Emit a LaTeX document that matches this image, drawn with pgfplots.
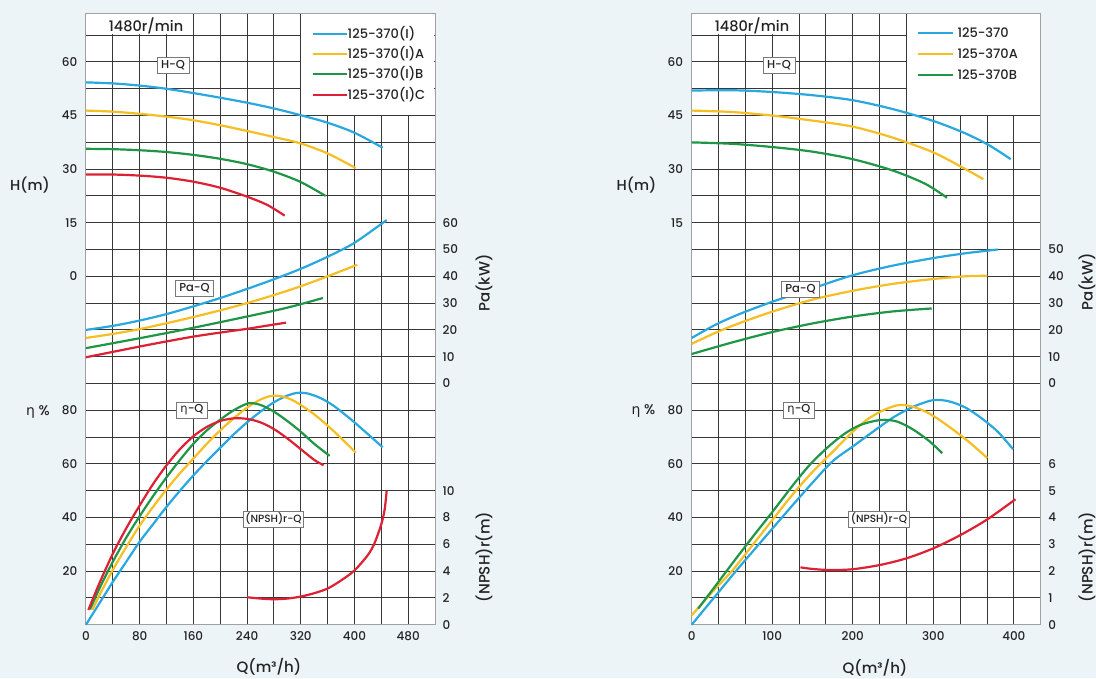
\documentclass[border=0pt]{standalone}
\usepackage{pgfplots}
\pgfplotsset{compat=1.18}
\usepackage{fontspec}
\setmainfont{Poppins Medium}
\newfontfamily\grk{DejaVu Sans}
\definecolor{bg}{RGB}{236,244,247}
\definecolor{cB}{RGB}{41,168,224}
\definecolor{cY}{RGB}{245,190,35}
\definecolor{cG}{RGB}{30,150,70}
\definecolor{cR}{RGB}{222,32,52}
\definecolor{gridc}{RGB}{55,55,55}
\definecolor{framec}{RGB}{160,160,160}
\definecolor{boxc}{RGB}{120,120,120}
\definecolor{txt}{RGB}{35,35,35}
\pgfplotsset{
  every axis/.append style={scale only axis, width=349pt, height=611.3pt, anchor=south west,
     /pgf/number format/assume math mode=true,
     major tick length=0pt, tick style={draw=none},
     tick label style={font=\fontsize{12}{12}\selectfont, text=txt},
     clip=false},
  ov/.style={axis line style={draw=none}, xtick=\empty, xmin=0, xmax=#1},
  lefty/.style={yticklabel style={anchor=east, inner sep=0pt, xshift=-8.5pt}},
  righty/.style={yticklabel pos=right, yticklabel style={anchor=west, inner sep=0pt, xshift=7.5pt}},
  cv/.style={line width=2.2pt, smooth, no markers},
  gridax/.style={grid=major, grid style={gridc, line width=1pt},
     axis line style={framec, line width=1pt},
     axis background/.style={fill=white},
     xticklabel style={anchor=north, inner sep=0pt, yshift=-7pt},
     xmin=0, xmax=13, xtick={0,1,...,13},
     ytick={0,1,...,22}, yticklabels={}, ymin=0, ymax=22.81},
}
\tikzset{
  lbl/.style={draw=boxc, fill=white, line width=0.8pt, inner xsep=4pt, inner ysep=0pt,
     minimum height=16pt, text=txt, font=\fontsize{11.5}{11.5}\selectfont},
  tx/.style={text=txt, inner sep=0pt},
}
\begin{document}
\begin{tikzpicture}[x=1pt,y=1pt]
\fill[bg] (0,0) rectangle (1096,678);

% ================= LEFT PANEL (grid: 13 columns of 40 m3/h) =================
\begin{axis}[at={(86pt,53.3pt)}, gridax,
  xticklabels={0,{},80,{},160,{},240,{},320,{},400,{},480,{}}]
\fill[white] (axis cs:0.02,22.04) rectangle (axis cs:3.98,22.78);
\fill[white] (axis cs:8.02,19.025) rectangle (axis cs:12.98,22.78);
\end{axis}

\begin{axis}[at={(86pt,53.3pt)}, ov=520, ymin=-97.5, ymax=73.6, ytick={0,15,...,60}, lefty]
\addplot[cv, cB] coordinates {(0,54.3)(40,54.0)(80,53.4)(120,52.5)(160,51.3)(200,50.0)(240,48.6)(280,47.0)(320,45.1)(360,43.0)(400,40.2)(442,36.0)};
\addplot[cv, cY] coordinates {(0,46.4)(40,46.1)(80,45.5)(120,44.7)(160,43.7)(200,42.3)(240,40.7)(280,39.0)(320,37.2)(360,34.4)(402,30.3)};
\addplot[cv, cG] coordinates {(0,35.7)(40,35.6)(80,35.3)(120,34.8)(160,34.0)(200,32.9)(240,31.4)(280,29.3)(320,26.4)(357,22.5)};
\addplot[cv, cR] coordinates {(0,28.5)(40,28.5)(80,28.2)(120,27.6)(160,26.5)(200,24.8)(240,22.3)(270,20.0)(296,17.0)};
\end{axis}

\begin{axis}[at={(86pt,53.3pt)}, ov=520, ymin=-90, ymax=138.1, ytick={0,10,...,60}, righty]
\addplot[cv, cB] coordinates {(0,20)(40,21.5)(80,23.5)(120,25.9)(160,28.8)(200,31.9)(240,35.3)(280,38.9)(320,42.8)(360,47.3)(400,52.5)(448,61)};
\addplot[cv, cY] coordinates {(0,17)(40,18.5)(80,20.3)(120,22.5)(160,24.8)(200,27.3)(240,30)(280,33)(320,36.3)(360,40)(404,44.3)};
\addplot[cv, cG] coordinates {(0,13.2)(80,16.9)(160,20.8)(240,25)(300,28.3)(353,31.9)};
\addplot[cv, cR] coordinates {(0,9.8)(40,11.8)(80,13.8)(120,15.7)(160,17.5)(200,19)(240,20.4)(270,21.6)(298,22.7)};
\end{axis}

\begin{axis}[at={(86pt,53.3pt)}, ov=520, ymin=0, ymax=228.1, ytick={20,40,60,80}, lefty]
\addplot[cv, cB] coordinates {(0,0)(20,8)(40,16)(60,23.5)(80,31)(100,37.5)(120,44)(140,50)(160,55.7)(180,61)(200,66)(220,71)(240,75.5)(260,79.5)(280,83)(300,85.5)(315,86.5)(330,86.3)(350,84.5)(370,81.5)(400,75.5)(442,66.2)};
\addplot[cv, cY] coordinates {(9.5,5.5)(20,11)(40,20.5)(60,29)(80,37)(100,44)(120,50.5)(140,56.5)(160,62)(180,67.5)(200,72.5)(220,77)(240,81)(260,84)(275,85.3)(290,85.3)(310,83.5)(340,78.5)(370,72)(402,64.2)};
\addplot[cv, cG] coordinates {(6,5.7)(20,13.5)(40,23.5)(60,32.5)(80,40.5)(100,48)(120,55)(140,61.5)(160,67.5)(180,72.5)(200,76.5)(220,80)(242,82.6)(260,82)(280,79.5)(300,76)(320,72)(340,67.5)(363,63)};
\addplot[cv, cR] coordinates {(3.5,5.5)(20,15.5)(40,26.5)(60,36)(80,44.5)(100,52.5)(120,59.5)(140,65.5)(160,70.3)(180,73.8)(200,76)(220,77)(240,76.8)(260,75.5)(280,73)(300,69.5)(320,65.5)(340,61.5)(354,59.5)};
\end{axis}

\begin{axis}[at={(86pt,53.3pt)}, ov=520, ymin=0, ymax=45.62, ytick={0,2,...,10}, righty]
\addplot[cv, cR] coordinates {(240,2.05)(260,1.95)(280,1.9)(300,1.95)(320,2.1)(340,2.35)(360,2.7)(380,3.3)(400,4.05)(420,5.2)(430,6.1)(440,7.5)(445,8.6)(448,10)};
\end{axis}

% ================= RIGHT PANEL (grid: 13 columns of 33.3 m3/h) =================
\begin{axis}[at={(691.7pt,53.3pt)}, gridax,
  xticklabels={0,{},{},100,{},{},200,{},{},300,{},{},400,{}}]
\fill[white] (axis cs:0.02,22.04) rectangle (axis cs:3.98,22.78);
\fill[white] (axis cs:8.02,19.025) rectangle (axis cs:12.98,22.78);
\end{axis}

\begin{axis}[at={(691.7pt,53.3pt)}, ov=433.333, ymin=-97.5, ymax=73.6, ytick={15,30,45,60}, lefty]
\addplot[cv, cB] coordinates {(0,52)(50,52.1)(100,51.6)(150,50.7)(200,49.3)(250,46.8)(300,43.5)(340,40)(370,36.6)(396,32.8)};
\addplot[cv, cY] coordinates {(0,46.4)(50,46)(100,45)(150,43.6)(200,41.9)(250,38.8)(300,34.7)(340,30)(362,27.2)};
\addplot[cv, cG] coordinates {(0,37.5)(50,37.1)(100,36.2)(150,34.9)(200,32.8)(250,29.6)(290,25.9)(317,22)};
\end{axis}

\begin{axis}[at={(691.7pt,53.3pt)}, ov=433.333, ymin=-90, ymax=138.1, ytick={0,10,...,50}, righty]
\addplot[cv, cB] coordinates {(0,17)(30,22)(60,26)(100,30.5)(150,35.5)(200,40.4)(250,44)(300,46.8)(340,48.6)(380,50)};
\addplot[cv, cY] coordinates {(0,14.8)(30,19)(60,22.6)(100,26.8)(150,31.3)(200,34.6)(250,37.2)(300,39)(340,40)(367,40.2)};
\addplot[cv, cG] coordinates {(0,11)(50,15.3)(100,19.2)(150,22.4)(200,25)(250,26.9)(298,28)};
\end{axis}

\begin{axis}[at={(691.7pt,53.3pt)}, ov=433.333, ymin=0, ymax=228.1, ytick={20,40,60,80}, lefty]
\addplot[cv, cB] coordinates {(0,0)(28,10.2)(56,20.4)(80,28.8)(100,35.8)(125,44.5)(150,53)(175,61)(200,66.5)(225,72)(250,77.3)(275,81.3)(300,83.8)(320,83.3)(340,81)(360,77)(380,72)(399,65.5)};
\addplot[cv, cY] coordinates {(0,3.5)(25,12)(51,20.4)(75,29.5)(100,39)(125,48.5)(150,57)(175,64.5)(200,72)(220,77)(240,80.3)(258,82)(275,81.3)(295,78.8)(320,73.8)(345,68)(367,62.2)};
\addplot[cv, cG] coordinates {(8,6)(30,14.7)(50,22.7)(75,32.5)(100,42)(125,51.8)(147,59.8)(170,66.5)(190,71.3)(210,74.6)(235,76.4)(255,75.8)(275,72.8)(295,68.5)(311,64)};
\end{axis}

\begin{axis}[at={(691.7pt,53.3pt)}, ov=433.333, ymin=0, ymax=22.81, ytick={0,1,...,6}, righty]
\addplot[cv, cR] coordinates {(135,2.14)(150,2.08)(172,2.04)(200,2.07)(234,2.23)(267,2.48)(300,2.85)(334,3.35)(367,3.93)(402,4.68)};
\end{axis}

% ================= LABELS =================
\node[tx, font=\fontsize{14.5}{14.5}\selectfont] at (146,652) {1480r/min};
\node[tx, font=\fontsize{14.5}{14.5}\selectfont] at (752,652) {1480r/min};

\node[lbl] at (173,613) {H-Q};
\node[lbl] at (779,613) {H-Q};
\node[lbl] at (194.5,389.5) {Pa-Q};
\node[lbl] at (800.5,389) {Pa-Q};
\node[lbl] at (192,268) {{\grk η}-Q};
\node[lbl] at (799,268) {{\grk η}-Q};
\node[lbl, inner xsep=2pt, font=\fontsize{10.5}{10.5}\selectfont] at (273.5,159) {(NPSH)r-Q};
\node[lbl, inner xsep=2pt, font=\fontsize{10.5}{10.5}\selectfont] at (879,159) {(NPSH)r-Q};

\node[tx, font=\fontsize{14.5}{14.5}\selectfont] at (30,493) {H(m)};
\node[tx, font=\fontsize{14.5}{14.5}\selectfont] at (636.5,493) {H(m)};
\node[tx, font=\fontsize{14}{14}\selectfont] at (38,266) {{\grk η} \%};
\node[tx, font=\fontsize{14}{14}\selectfont] at (643.5,267) {{\grk η} \%};
\node[tx, rotate=90, font=\fontsize{15}{15}\selectfont] at (484,395) {Pa(kW)};
\node[tx, rotate=90, font=\fontsize{15}{15}\selectfont] at (1087,396) {Pa(kW)};
\node[tx, rotate=90, font=\fontsize{15}{15}\selectfont] at (484,121) {(NPSH)r(m)};
\node[tx, rotate=90, font=\fontsize{15}{15}\selectfont] at (1087,121) {(NPSH)r(m)};
\node[tx, font=\fontsize{15}{15}\selectfont] at (269,11) {Q(m³/h)};
\node[tx, font=\fontsize{15}{15}\selectfont] at (875,10) {Q(m³/h)};

% ================= LEGENDS =================
\begin{scope}[font=\fontsize{13}{13}\selectfont]
\draw[cB, line width=1.8pt] (312.7,644) -- (346.7,644); \node[tx, anchor=base west] at (347.5,639.3) {125-370(I)};
\draw[cY, line width=1.8pt] (312.7,624) -- (346.7,624); \node[tx, anchor=base west] at (347.5,619.3) {125-370(I)A};
\draw[cG, line width=1.8pt] (312.7,604) -- (346.7,604); \node[tx, anchor=base west] at (347.5,599.3) {125-370(I)B};
\draw[cR, line width=1.8pt] (312.7,583) -- (346.7,583); \node[tx, anchor=base west] at (347.5,578.3) {125-370(I)C};
\draw[cB, line width=1.8pt] (918,644.7) -- (952.7,644.7); \node[tx, anchor=base west] at (957.3,640) {125-370};
\draw[cY, line width=1.8pt] (918,624) -- (952.7,624); \node[tx, anchor=base west] at (957.3,619.3) {125-370A};
\draw[cG, line width=1.8pt] (918,603.3) -- (952.7,603.3); \node[tx, anchor=base west] at (957.3,598.6) {125-370B};
\end{scope}
\end{tikzpicture}
\end{document}
